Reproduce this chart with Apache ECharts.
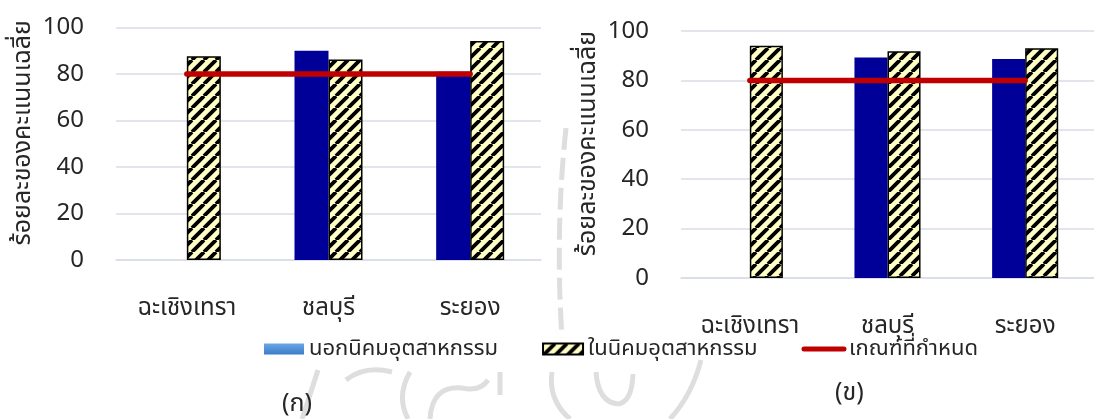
<!DOCTYPE html>
<html>
<head>
<meta charset="utf-8">
<script src="https://cdn.jsdelivr.net/npm/echarts@6/dist/echarts.min.js"></script>
<style>
  html, body { margin: 0; padding: 0; background: #ffffff; }
  #chart { width: 1094px; height: 419px; }
</style>
</head>
<body>
<div id="chart"></div>
<script>
// Categories (provinces) shared by both panels
const categories = ['ฉะเชิงเทรา', 'ชลบุรี', 'ระยอง'];

// Panel (ก)
const outsideA = [null, 90.0, 81.0];
const insideA = [87.6, 86.2, 94.2];
const criterionA = [80, 80, 80];

// Panel (ข)
const outsideB = [null, 89.3, 88.7];
const insideB = [94.0, 91.8, 93.0];
const criterionB = [80, 80, 80];

// Value axis ticks: 0, 20, ... 100
const yMin = 0, yMax = 100, yStep = 20;

const seriesNames = ['นอกนิคมอุตสาหกรรม', 'ในนิคมอุตสาหกรรม', 'เกณฑ์ที่กำหนด'];
const panelLabels = ['(ก)', '(ข)'];
const yTitle = 'ร้อยละของคะแนนเฉลี่ย';

const FONT = "'Noto Sans', 'Noto Sans Thai', 'DejaVu Sans', sans-serif";
const INK = '#262626';

// Cream fill with black diagonal stripes for the in-estate bars
function hatchTile() {
  const s = 12;
  const c = document.createElement('canvas');
  c.width = s; c.height = s;
  const g = c.getContext('2d');
  g.fillStyle = '#FFFFC6';
  g.fillRect(0, 0, s, s);
  g.strokeStyle = '#000000';
  g.lineWidth = 3.8;
  g.beginPath();
  for (const o of [-s, 0, s]) { g.moveTo(o, s); g.lineTo(o + s, 0); }
  g.stroke();
  return c;
}
const hatch = { image: hatchTile(), repeat: 'repeat' };

const gridLine = '#d9dde6';

function xAxisFor(i) {
  return {
    type: 'category', gridIndex: i, data: categories,
    axisLine: { show: true, lineStyle: { color: gridLine, width: 1.5 } },
    axisTick: { show: false },
    axisLabel: { fontFamily: FONT, fontSize: 24, color: INK, margin: 36 }
  };
}
function yAxisFor(i) {
  return {
    type: 'value', gridIndex: i, min: yMin, max: yMax, interval: yStep,
    name: yTitle, nameLocation: 'middle', nameGap: 81, nameRotate: 90,
    nameTextStyle: { fontFamily: FONT, fontSize: 25, color: INK, padding: [0, 0, 0, 22] },
    axisLine: { show: false }, axisTick: { show: false },
    axisLabel: { fontFamily: FONT, fontSize: 24, color: INK, margin: 32 },
    splitLine: { lineStyle: { color: gridLine, width: 1.5 } }
  };
}
function panelSeries(i, outside, inside, crit) {
  return [
    { name: seriesNames[0], type: 'bar', xAxisIndex: i, yAxisIndex: i, data: outside,
      barWidth: '24%', barGap: '0%', itemStyle: { color: '#000099' } },
    { name: seriesNames[1], type: 'bar', xAxisIndex: i, yAxisIndex: i, data: inside,
      barWidth: '24%', barGap: '0%',
      itemStyle: { color: hatch, borderColor: '#000000', borderWidth: 1.5 } },
    { name: seriesNames[2], type: 'line', xAxisIndex: i, yAxisIndex: i, data: crit,
      symbol: 'none', z: 5,
      lineStyle: { color: '#C00000', width: 5.5, cap: 'round' },
      itemStyle: { color: '#C00000' } }
  ];
}

// faint emblem watermark strokes (quadratic curves: start, control, end)
const wm = [
  [566, 128, 555, 230, 562, 338],
  [701, 360, 692, 395, 670, 419],
  [318, 370, 310, 395, 302, 419],
  [346, 380, 365, 365, 392, 372],
  [410, 372, 396, 396, 408, 419],
  [430, 419, 432, 385, 462, 388],
  [462, 388, 480, 392, 488, 380],
  [500, 372, 500, 384, 500, 395],
  [552, 372, 548, 400, 570, 419],
  [596, 372, 598, 402, 618, 404],
  [618, 404, 632, 402, 633, 374]
];
const wmGraphics = wm.map((p, k) => ({
  type: 'bezierCurve', silent: true, z: -10,
  shape: { x1: p[0], y1: p[1], cpx1: p[2], cpy1: p[3], x2: p[4], y2: p[5] },
  style: { stroke: '#dedede', lineWidth: 5, fill: null, lineDash: k === 0 ? [22, 8] : null }
}));

const chart = echarts.init(document.getElementById('chart'), null, { renderer: 'canvas' });

chart.setOption({
  animation: false,
  backgroundColor: '#ffffff',
  grid: [
    { left: 116, top: 27.5, width: 425, height: 232.5 },
    { left: 681, top: 31, width: 422.5, height: 247 }
  ],
  xAxis: [xAxisFor(0), xAxisFor(1)],
  yAxis: [yAxisFor(0), yAxisFor(1)],
  legend: {
    left: 259, top: 333,
    itemWidth: 40, itemHeight: 11, itemGap: 44,
    textStyle: { fontFamily: FONT, fontSize: 22, color: INK },
    data: [
      { name: seriesNames[0], icon: 'rect',
        itemStyle: { color: { type: 'linear', x: 0, y: 0, x2: 0, y2: 1,
          colorStops: [{ offset: 0, color: '#6aa8e4' }, { offset: 1, color: '#3a7cc8' }] } } },
      { name: seriesNames[1], icon: 'rect' },
      { name: seriesNames[2], itemStyle: { opacity: 0 },
        lineStyle: { color: '#C00000', width: 5, opacity: 1 } }
    ]
  },
  graphic: [
    ...wmGraphics,
    { type: 'text', left: 282, top: 391,
      style: { text: panelLabels[0], font: '25px ' + FONT, fill: INK } },
    { type: 'text', left: 835, top: 380,
      style: { text: panelLabels[1], font: '25px ' + FONT, fill: INK } }
  ],
  series: [
    ...panelSeries(0, outsideA, insideA, criterionA),
    ...panelSeries(1, outsideB, insideB, criterionB)
  ]
});
</script>
</body>
</html>
